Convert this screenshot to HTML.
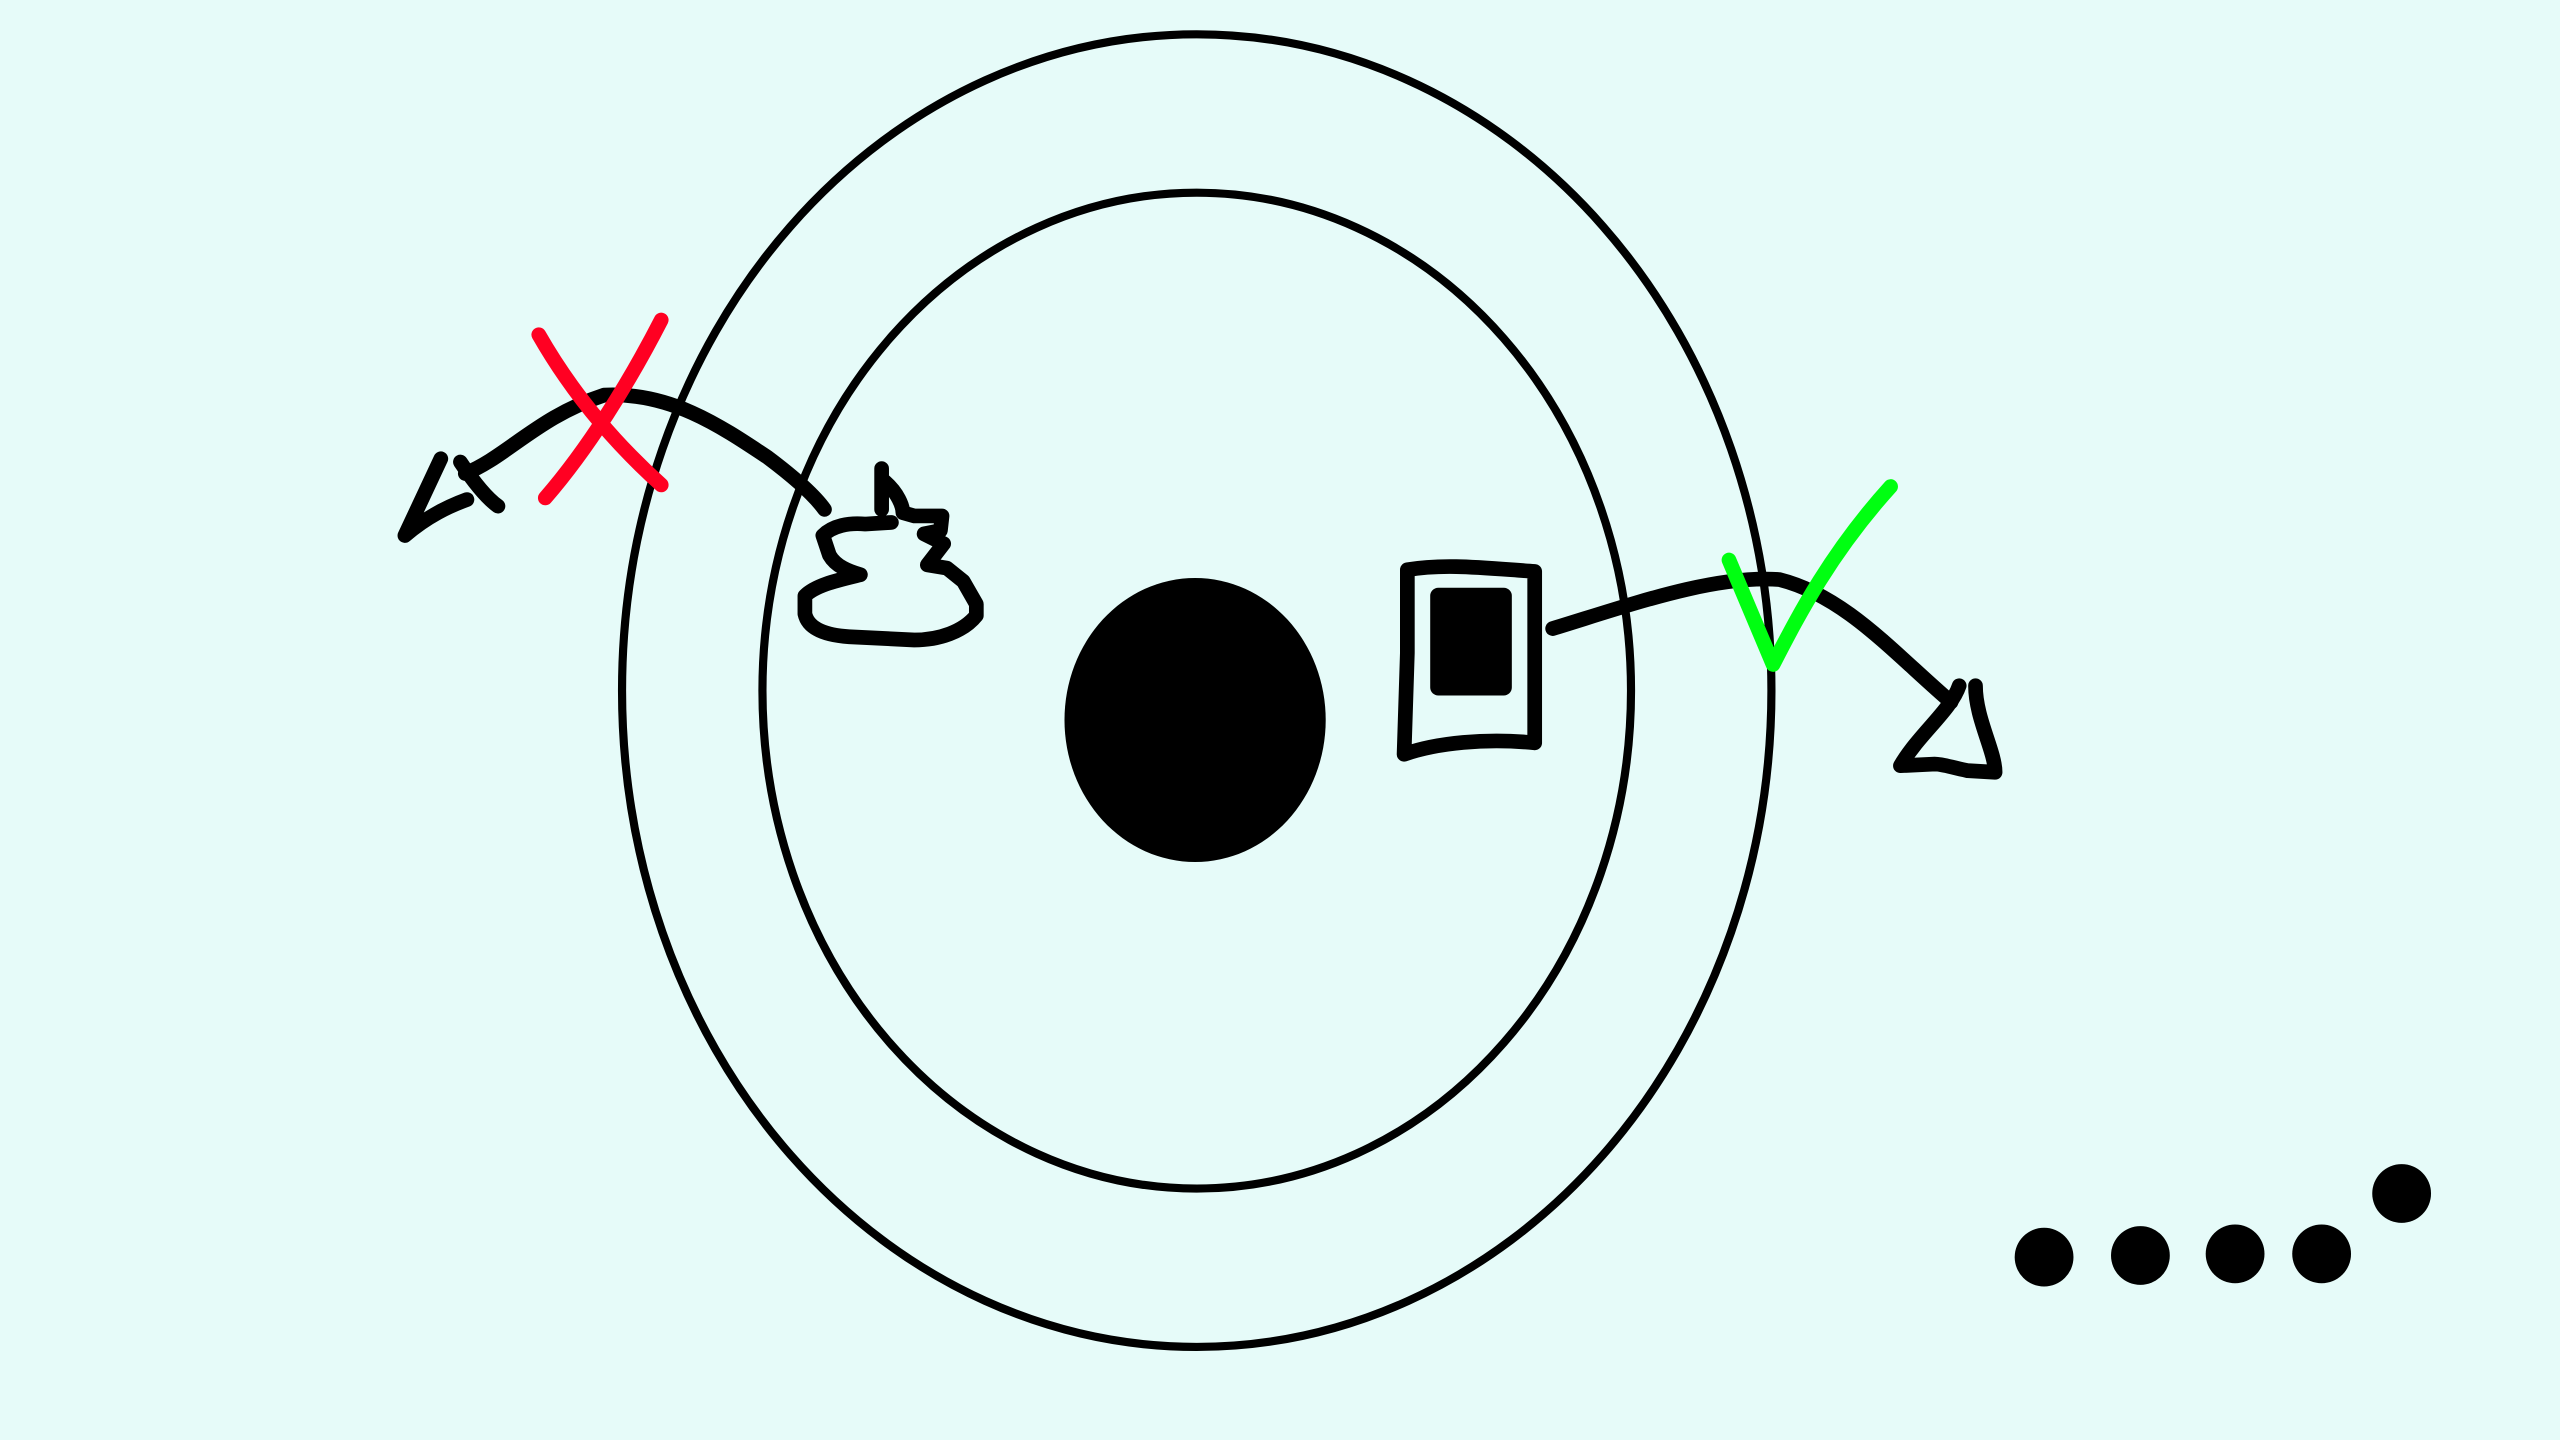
<!DOCTYPE html>
<html><head><meta charset="utf-8"><style>
html,body{margin:0;padding:0;background:#e6fbf9;}
svg{display:block;}
</style></head><body>
<svg width="2560" height="1440" viewBox="0 0 1568 882" xmlns="http://www.w3.org/2000/svg">
<rect x="0" y="0" width="1568" height="882" fill="#e6fbf9"/>
<ellipse cx="733" cy="423" rx="352" ry="402" fill="none" stroke="#000" stroke-width="5"/>
<ellipse cx="733" cy="423" rx="266" ry="305" fill="none" stroke="#000" stroke-width="5"/>
<ellipse cx="732" cy="441" rx="80" ry="87" fill="#000"/>
<g fill="none" stroke="#000" stroke-width="9" stroke-linecap="round" stroke-linejoin="round">
<path d="M285 290 C310 280 330 255 370 242 C410 240 440 260 470 280 C490 295 500 305 505 312"/>
<path d="M270 281 L248 328 M248 328 C262 316 275 310 286 306 M282 283 C290 295 298 305 305 310"/>
<path d="M540 287 L540 312 M542 295 C550 302 553 310 553 314 L560 316 L577 316 L576 325 L566 327 L578 333 L568 346 L580 348 L590 356 L598 370 L598 377 C590 387 575 392 560 392 L520 390 C505 389 495 385 493 376 L493 365 C500 358 515 355 527 352 C520 350 512 347 508 340 L504 328 C510 322 520 320 530 321 L546 320"/>
<path d="M862 349 L862 400 L860 462 C880 455 910 452 940 455 L940 400 L940 350 C910 348 885 345 862 349"/>
<path d="M951 385 C1000 370 1050 352 1090 355 C1130 365 1160 400 1195 430"/>
<path d="M1210 420 C1210 440 1222 460 1222 473 L1205 472 C1195 470 1190 468 1185 468 L1164 469 C1175 450 1195 435 1200 420"/>
</g>
<rect x="876" y="360" width="50" height="66" rx="5" fill="#000"/>
<path d="M330 205 C350 240 375 270 405 297 M405 196 C385 235 360 275 334 305" fill="none" stroke="#ff0022" stroke-width="9" stroke-linecap="round"/>
<path d="M1059 343 L1086 407 C1100 380 1120 340 1158 298" fill="none" stroke="#00ff11" stroke-width="9" stroke-linecap="round" stroke-linejoin="round"/>
<g fill="#000">
<circle cx="1252" cy="770" r="18"/>
<circle cx="1311" cy="769" r="18"/>
<circle cx="1369" cy="768" r="18"/>
<circle cx="1422" cy="768" r="18"/>
<circle cx="1471" cy="731" r="18"/>
</g>
</svg>
</body></html>
